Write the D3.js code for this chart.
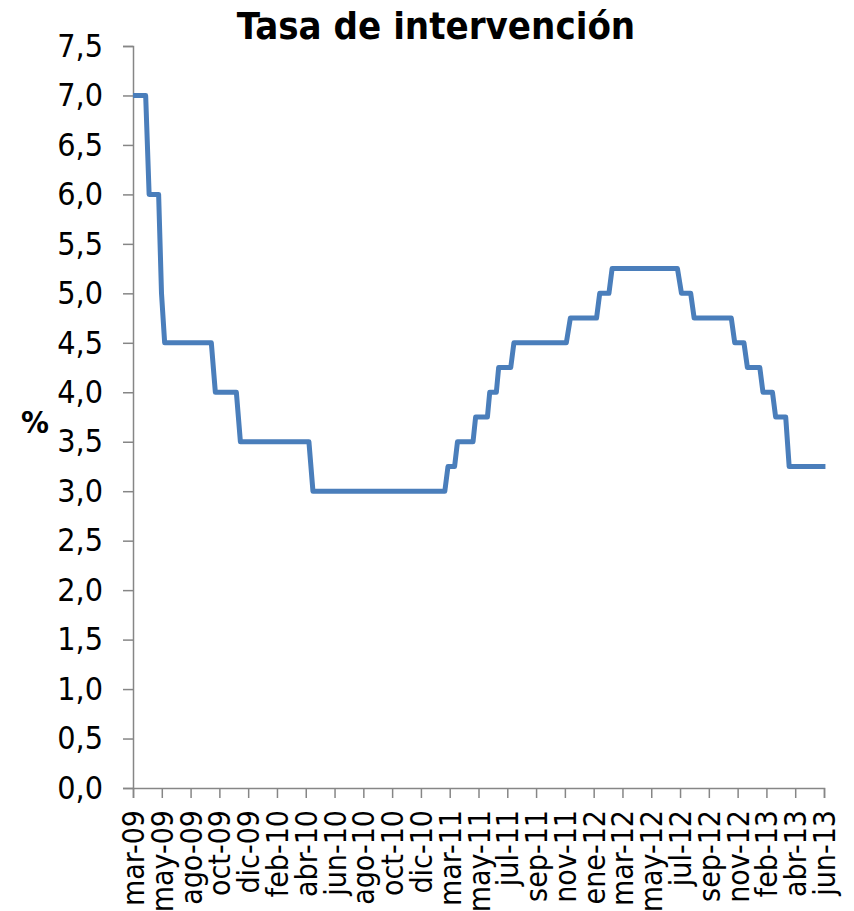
<!DOCTYPE html>
<html>
<head>
<meta charset="utf-8">
<script src="https://cdn.jsdelivr.net/npm/d3@7"></script>
<style>
  body { margin: 0; background: #fff; }
  svg text { font-family: "DejaVu Sans Condensed", "DejaVu Sans", sans-serif; fill: #000; }
</style>
</head>
<body>
<div id="chart"></div>
<script>
// tick labels on the category axis (equally spaced)
var tickLabels = ['mar-09', 'may-09', 'ago-09', 'oct-09', 'dic-09', 'feb-10', 'abr-10', 'jun-10',
    'ago-10', 'oct-10', 'dic-10', 'mar-11', 'may-11', 'jul-11', 'sep-11', 'nov-11', 'ene-12',
    'mar-12', 'may-12', 'jul-12', 'sep-12', 'nov-12', 'feb-13', 'abr-13', 'jun-13'];

// position along the axis, in tick-label units (0 = mar-09, 24 = jun-13)
var ratePos = [0, 0.44, 0.56, 0.89, 0.99, 1.10, 2.72, 2.86, 3.59, 3.73, 6.11, 6.25,
    10.83, 10.94, 11.17, 11.27, 11.81, 11.90, 12.31, 12.39, 12.62, 12.70, 13.12, 13.23,
    15.05, 15.19, 16.10, 16.21, 16.53, 16.64, 18.91, 19.05, 19.37, 19.49, 20.78, 20.90,
    21.22, 21.34, 21.77, 21.88, 22.21, 22.32, 22.67, 22.79, 24.05];

// tasa de intervencion, %
var rateValue = [7.0, 7.0, 6.0, 6.0, 5.0, 4.5, 4.5, 4.0, 4.0, 3.5, 3.5, 3.0,
    3.0, 3.25, 3.25, 3.5, 3.5, 3.75, 3.75, 4.0, 4.0, 4.25, 4.25, 4.5,
    4.5, 4.75, 4.75, 5.0, 5.0, 5.25, 5.25, 5.0, 5.0, 4.75, 4.75, 4.5,
    4.5, 4.25, 4.25, 4.0, 4.0, 3.75, 3.75, 3.25, 3.25];

var yTicks = d3.range(0, 7.51, 0.5);

var width = 854, height = 911;
var margin = {top: 46, right: 30, bottom: 123, left: 133};

var svg = d3.select('#chart').append('svg')
    .attr('width', width)
    .attr('height', height);

var x = d3.scaleLinear()
    .domain([0, tickLabels.length - 1])
    .range([margin.left, width - margin.right]);

var y = d3.scaleLinear()
    .domain([0, 7.5])
    .range([height - margin.bottom, margin.top]);

var fmt = function (d) { return d3.format('.1f')(d).replace('.', ','); };

// y axis
var yAxis = svg.append('g')
    .attr('transform', 'translate(' + margin.left + ',0)')
    .call(d3.axisLeft(y).tickValues(yTicks).tickFormat(fmt).tickSize(10).tickPadding(20));

yAxis.selectAll('text').style('font-size', '32px');

// x axis
var xAxis = svg.append('g')
    .attr('transform', 'translate(0,' + (height - margin.bottom) + ')')
    .call(d3.axisBottom(x)
        .tickValues(d3.range(tickLabels.length))
        .tickFormat(function (i) { return tickLabels[i]; })
        .tickSize(10).tickPadding(0));

xAxis.selectAll('text')
    .attr('transform', 'rotate(-90)')
    .attr('text-anchor', 'end')
    .attr('x', -22)
    .attr('y', 0)
    .attr('dy', '0.35em')
    .style('font-size', '30px');

svg.selectAll('.domain, .tick line')
    .attr('stroke', '#868686')
    .attr('stroke-width', 1.5);

// title
svg.append('text')
    .attr('x', 436)
    .attr('y', 39)
    .attr('text-anchor', 'middle')
    .style('font-size', '38px')
    .style('font-weight', 'bold')
    .text('Tasa de intervención');

// y axis label
svg.append('text')
    .attr('x', 21)
    .attr('y', 433)
    .style('font-size', '31px')
    .style('font-weight', 'bold')
    .text('%');

// the series
var line = d3.line()
    .x(function (d, i) { return x(ratePos[i]); })
    .y(function (d) { return y(d); });

svg.append('path')
    .datum(rateValue)
    .attr('d', line)
    .attr('fill', 'none')
    .attr('stroke', '#4A7EBB')
    .attr('stroke-width', 5)
    .attr('stroke-linejoin', 'round');
</script>
</body>
</html>
